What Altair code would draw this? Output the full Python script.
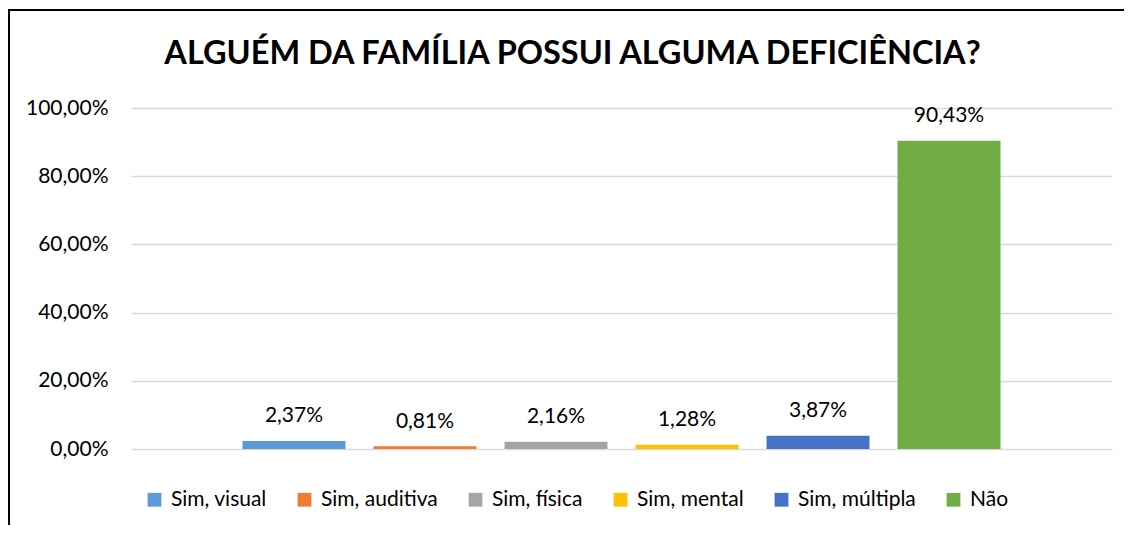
import altair as alt
import pandas as pd

TITLE = "ALGUÉM DA FAMÍLIA POSSUI ALGUMA DEFICIÊNCIA?"
categories = ["Sim, visual", "Sim, auditiva", "Sim, física", "Sim, mental", "Sim, múltipla", "Não"]
values = [0.0237, 0.0081, 0.0216, 0.0128, 0.0387, 0.9043]
colors = ["#5B9BD5", "#ED7D31", "#A5A5A5", "#FFC000", "#4472C4", "#70AD47"]
y_ticks = [0, 0.2, 0.4, 0.6, 0.8, 1.0]

FONT = "Lato"
W, H = 981, 341

df = pd.DataFrame({"cat": categories, "v": values})

base = alt.Chart(df)

bars = base.mark_bar().encode(
    x=alt.X("cat:N", sort=categories,
            scale=alt.Scale(domain=categories, paddingInner=0.214, paddingOuter=0.851),
            axis=None),
    y=alt.Y("v:Q", scale=alt.Scale(domain=[0, 1], nice=False),
            axis=alt.Axis(values=y_ticks, title=None, domain=False, ticks=False,
                          labelExpr="replace(format(datum.value, '.2%'), '.', ',')",
                          labelFont=FONT, labelFontSize=21, labelColor="#000000",
                          labelPadding=23, grid=True, gridColor="#D9D9D9", gridWidth=1.5)),
    color=alt.Color("cat:N", sort=categories,
                    scale=alt.Scale(domain=categories, range=colors),
                    legend=alt.Legend(orient="none", legendX=13, legendY=381,
                                      direction="horizontal", columns=6, title=None,
                                      symbolType="square", symbolSize=190,
                                      symbolStrokeWidth=0, labelFont=FONT,
                                      labelFontSize=21, labelColor="#000000",
                                      labelOffset=6, columnPadding=27)),
)

labels = base.transform_calculate(
    lab="replace(format(datum.v, '.2%'), '.', ',')"
).mark_text(font=FONT, fontSize=21, color="#000000", baseline="alphabetic", dy=-18.5).encode(
    x=alt.X("cat:N", sort=categories),
    y="v:Q",
    text="lab:N",
)

title = alt.Chart(alt.Data(values=[{"t": TITLE}])).mark_text(
    font=FONT, fontSize=32.5, fontWeight="bold", color="#000000",
    baseline="alphabetic", align="center"
).encode(x=alt.value(572.5 - 131), y=alt.value(64 - 108), text="t:N")

frame_left = alt.Chart(alt.Data(values=[{"a": 1}])).mark_rule(
    color="#000000", strokeWidth=2
).encode(x=alt.value(-122), y=alt.value(-99), y2=alt.value(600))

frame_top = alt.Chart(alt.Data(values=[{"a": 1}])).mark_rule(
    color="#000000", strokeWidth=2
).encode(x=alt.value(-123), x2=alt.value(1200), y=alt.value(-98))

chart = alt.layer(bars, labels, title, frame_left, frame_top).properties(
    width=W, height=H,
    autosize=alt.AutoSizeParams(type="none"),
    padding={"left": 123, "top": 100, "right": 12, "bottom": 76},
).configure_view(stroke=None)

chart.save("out.html", embed_options={"renderer": "svg", "actions": False})
